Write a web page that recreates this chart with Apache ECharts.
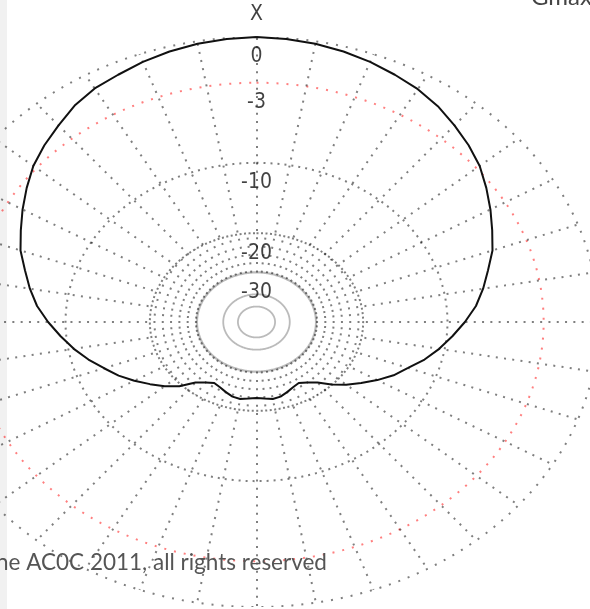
<!DOCTYPE html>
<html>
<head>
<meta charset="utf-8">
<script src="https://cdn.jsdelivr.net/npm/echarts@6/dist/echarts.min.js"></script>
<style>
  html, body { margin: 0; padding: 0; background: #fff; }
  #chart { width: 590px; height: 609px; }
</style>
</head>
<body>
<div id="chart"></div>
<script>
// Azimuth angle, degrees clockwise from the X direction
const azimuthDeg = [
  0, 5, 10, 15, 20, 25, 30, 35, 40, 45, 50, 55, 60, 65, 70, 75, 80, 85, 90,
  95, 100, 105, 110, 115, 120, 125, 130, 135, 140, 145, 150, 155, 160, 165, 170, 175, 180,
  185, 190, 195, 200, 205, 210, 215, 220, 225, 230, 235, 240, 245, 250, 255, 260, 265, 270,
  275, 280, 285, 290, 295, 300, 305, 310, 315, 320, 325, 330, 335, 340, 345, 350, 355, 360
];
// Relative gain in dB at each azimuth
const gainDb = [
  0, -0.05, -0.15, -0.3, -0.5, -0.75, -1.0, -1.35, -1.8, -2.25, -2.75, -3.4, -4.05, -4.7, -5.3, -6.1, -6.8, -7.55, -8.5,
  -9.5, -10.5, -11.6, -12.9, -14.0, -15.4, -16.9, -18.4, -20.1, -22.0, -23.2, -24.0, -23.6, -23.0, -22.4, -22.2, -22.5, -22.7,
  -22.5, -22.2, -22.4, -23.0, -23.6, -24.0, -23.2, -22.0, -19.6, -18.0, -16.6, -15.2, -13.9, -12.8, -11.6, -10.5, -9.5, -8.5,
  -7.55, -6.8, -6.1, -5.3, -4.7, -4.05, -3.4, -2.75, -2.25, -1.8, -1.3, -0.95, -0.75, -0.5, -0.3, -0.15, -0.05, 0
];

// Grid rings in dB
const dottedRingDb = [0, -3, -10, -20];
const solidRingDb = [-30, -40, -50];
// Ring labels along the X direction
const ringLabelDb = [0, -3, -10, -20, -30];
const ringLabelText = ['0', '-3', '-10', '-20', '-30'];
const directionLabel = 'X';
const copyrightText = 'ne AC0C 2011, all rights reserved';
const cornerText = 'Gmax';

// ARRL log-periodic radial scale: radius shrinks to 0.89 every 2 dB
const LOG_STEP = 0.89;
function radiusOf(db) { return Math.pow(LOG_STEP, -db / 2); }
function toXY(db, deg) {
  const r = radiusOf(db), a = deg * Math.PI / 180;
  return [r * Math.sin(a), r * Math.cos(a)];
}
function ringCoords(db) {
  const pts = [];
  for (let d = 0; d <= 360; d += 1) pts.push(toXY(db, d));
  return pts;
}

// Plot geometry: vertical unit = 285 px, horizontal unit = 342 px
const CX = 256.5, RY = 285, RX = 342;

const ringStyles = {
  '0':   { color: '#000', width: 2, type: [2, 8] },
  '-3':  { color: '#ff0000', width: 2, type: [2, 8] },
  '-10': { color: '#000', width: 2, type: [2, 5] },
  '-20': { color: '#000', width: 2, type: [2, 2.5] },
  '-30': { color: '#777', width: 2.2, type: 'solid' },
  '-40': { color: '#777', width: 1.8, type: 'solid' },
  '-50': { color: '#777', width: 1.8, type: 'solid' }
};

const ringData = dottedRingDb.concat(solidRingDb).map(db => ({
  coords: ringCoords(db),
  lineStyle: ringStyles[String(db)]
}));

// Radial spokes: every 10 deg from the -30 ring to 0 dB, extra 5 deg spokes out to -20 dB
const spokeData = [];
for (let d = 0; d < 360; d += 10) {
  spokeData.push({ coords: [toXY(-30, d), toXY(0, d)] });
}
for (let d = 5; d < 360; d += 10) {
  spokeData.push({ coords: [toXY(-30, d), toXY(-20, d)] });
}

const patternData = azimuthDeg.map((a, i) => toXY(gainDb[i], a));

const labelData = ringLabelDb.map((db, i) => ({
  value: toXY(db, 0), name: ringLabelText[i],
  label: { offset: [0, 20] }
}));
labelData.push({ value: toXY(0, 0), name: directionLabel, label: { offset: [0, -22] } });

const chart = echarts.init(document.getElementById('chart'), null, { renderer: 'canvas' });
chart.setOption({
  animation: false,
  backgroundColor: '#ffffff',
  grid: { left: 0, right: 0, top: 322 - RY, bottom: 609 - (322 + RY) },
  xAxis: { type: 'value', min: -CX / RX, max: (590 - CX) / RX, show: false },
  yAxis: { type: 'value', min: -1, max: 1, show: false },
  graphic: [
    { type: 'rect', left: 0, top: 0, z: -10, shape: { width: 7, height: 609 }, style: { fill: '#f1f1f1' } },
    { type: 'text', z: 10, style: { x: -4, y: 563, text: copyrightText, font: '22.5px Lato, sans-serif', fill: '#555', verticalAlign: 'middle' } },
    { type: 'text', z: 10, style: { x: 531, y: 9, text: cornerText, font: '24px Lato, sans-serif', fill: '#444', verticalAlign: 'bottom' } }
  ],
  series: [
    {
      type: 'lines', coordinateSystem: 'cartesian2d', polyline: true, silent: true, z: 1,
      data: ringData
    },
    {
      type: 'lines', coordinateSystem: 'cartesian2d', silent: true, z: 1,
      lineStyle: { color: '#000', width: 2, type: [2, 6.3] },
      data: spokeData
    },
    {
      type: 'line', silent: true, z: 3, showSymbol: false, smooth: false,
      lineStyle: { color: '#111', width: 2 },
      data: patternData
    },
    {
      type: 'scatter', silent: true, z: 4, symbolSize: 1,
      itemStyle: { color: 'rgba(0,0,0,0)' },
      label: {
        show: true, position: 'inside', formatter: '{b}',
        color: '#111', fontSize: 21,
        fontFamily: "'Liberation Sans Narrow', 'DejaVu Sans Condensed', 'Liberation Sans', sans-serif"
      },
      data: labelData
    }
  ]
});
</script>
</body>
</html>
